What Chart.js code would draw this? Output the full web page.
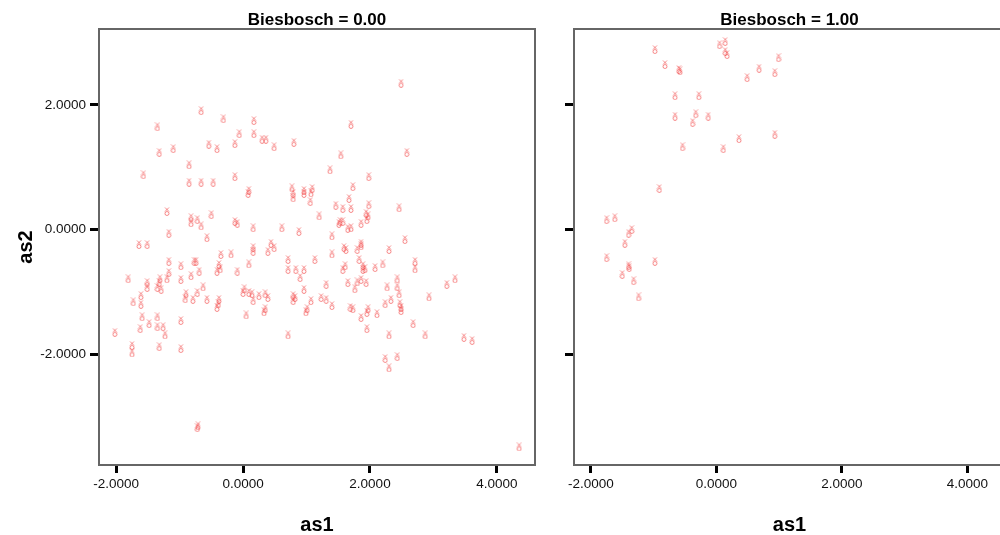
<!DOCTYPE html>
<html>
<head>
<meta charset="utf-8">
<script src="https://cdn.jsdelivr.net/npm/chart.js@4/dist/chart.umd.min.js"></script>
<style>
  html, body { margin: 0; padding: 0; background: #fff; overflow: hidden; }
  #wrap { position: relative; width: 1000px; height: 535px; overflow: hidden; }
  .panel { position: absolute; top: 0; height: 535px; }
  #p0 { left: 0; width: 545px; }
  #p1 { left: 545px; width: 465px; }
</style>
</head>
<body>
<div id="wrap">
  <div class="panel" id="p0"><canvas id="chart0"></canvas></div>
  <div class="panel" id="p1"><canvas id="chart1"></canvas></div>
</div>
<script>
// panel titles and tick values
const panelTitles = ["Biesbosch = 0.00", "Biesbosch = 1.00"];
const xTickValues = [-2, 0, 2, 4];
const yTickValues = [-2, 0, 2];

// Biesbosch = 0
const as1Bies0 = [
  -0.66, -0.31, 0.17, -1.35, -0.06, 0.17, 0.30, 0.36, 0.49, 0.80,
  -1.32, -1.10, -0.54, -0.41, -0.13, -0.85, -1.57, -0.13, -0.85, -0.66,
  -0.47, 0.09, 0.77, 0.96, 1.09, 2.49, 1.70, 2.58, 1.54, 1.37,
  1.98, 1.73, 0.08, 0.79, 0.79, 0.96, 1.07, 1.06, -1.20, -0.82,
  -0.82, -0.72, -0.66, -0.50, -0.13, -0.09, 0.16, 0.61, 0.88, 1.20,
  -1.17, -0.57, -1.64, -1.51, 0.16, 0.16, 0.44, 0.49, 0.39, -0.35,
  -0.19, -1.17, -0.77, -0.74, -0.98, -0.38, -0.36, -0.41, 0.09, 0.71,
  1.13, -0.09, 0.71, 0.83, 0.96, 0.90, -1.17, -0.69, -0.82, -0.98,
  -1.81, -1.51, -1.51, -1.31, -1.32, -1.35, -1.29, -1.20, -0.63, 0.02,
  0.00, 0.09, 0.14, 0.16, 0.25, 0.35, 0.39, -0.72, -0.90, -0.91,
  -0.79, -0.57, -0.38, -0.39, -0.41, -1.61, -1.73, -1.61, 0.35, 0.79,
  0.79, 0.82, 0.96, 1.07, 1.01, 1.67, 1.46, 1.57, 1.70, 1.98,
  2.46, 1.94, 1.97, 1.95, 1.53, 1.57, 1.51, 1.65, 1.70, 1.86,
  1.40, 2.55, 1.59, 1.62, 1.86, 1.86, 1.80, 2.30, 1.40, 1.83,
  1.61, 1.57, 1.89, 1.89, 1.92, 2.08, 2.20, 2.71, 2.71, 1.31,
  1.65, 1.80, 1.86, 1.94, 1.76, 2.27, 2.43, 2.43, 2.46, 3.34,
  3.21, 1.23, 1.31, 1.40, 1.69, 1.73, 1.97, 2.33, 2.24, 2.47,
  2.49, 2.93, -1.59, -1.35, -0.98, -1.48, -1.35, -1.26, -1.62, -1.23,
  -2.02, -1.75, -1.75, -1.32, -0.98, -0.72, -0.71, 0.05, 0.33, 0.99,
  0.71, 1.86, 1.95, 2.11, 2.49, 1.95, 2.68, 2.30, 2.87, 3.48,
  3.61, 2.24, 2.43, 2.30, 4.35
];
const as2Bies0 = [
  1.91, 1.78, 1.75, 1.65, 1.54, 1.54, 1.45, 1.45, 1.33, 1.40,
  1.24, 1.30, 1.37, 1.30, 1.38, 1.04, 0.88, 0.85, 0.76, 0.76,
  0.76, 0.63, 0.67, 0.63, 0.66, 2.35, 1.69, 1.24, 1.20, 0.96,
  0.85, 0.69, 0.58, 0.58, 0.51, 0.58, 0.59, 0.45, 0.29, 0.19,
  0.11, 0.16, 0.06, 0.24, 0.13, 0.10, 0.03, 0.03, -0.03, 0.22,
  -0.06, -0.13, -0.24, -0.24, -0.29, -0.35, -0.22, -0.29, -0.35, -0.40,
  -0.39, -0.51, -0.51, -0.51, -0.58, -0.56, -0.63, -0.67, -0.55, -0.48,
  -0.48, -0.67, -0.64, -0.64, -0.64, -0.77, -0.69, -0.67, -0.74, -0.80,
  -0.79, -0.85, -0.93, -0.79, -0.85, -0.93, -0.96, -0.79, -0.92, -0.95,
  -1.01, -1.01, -1.03, -1.14, -1.06, -1.03, -1.09, -1.01, -1.03, -1.11,
  -1.12, -1.12, -1.12, -1.19, -1.25, -1.06, -1.16, -1.20, -1.27, -1.06,
  -1.14, -1.09, -0.96, -1.14, -1.27, 0.50, 0.39, 0.34, 0.34, 0.40,
  0.35, 0.26, 0.22, 0.16, 0.13, 0.13, 0.10, 0.02, 0.03, 0.10,
  -0.10, -0.16, -0.29, -0.32, -0.22, -0.26, -0.32, -0.32, -0.39, -0.48,
  -0.58, -0.64, -0.58, -0.64, -0.63, -0.61, -0.55, -0.51, -0.63, -0.88,
  -0.85, -0.84, -0.80, -0.85, -0.95, -0.92, -0.79, -0.92, -1.03, -0.79,
  -0.88, -1.09, -1.12, -1.22, -1.25, -1.27, -1.27, -1.12, -1.19, -1.19,
  -1.25, -1.08, -1.40, -1.40, -1.46, -1.51, -1.56, -1.56, -1.59, -1.69,
  -1.65, -1.86, -1.98, -1.88, -1.91, -3.18, -3.15, -1.37, -1.32, -1.32,
  -1.69, -1.41, -1.33, -1.35, -1.30, -1.59, -1.51, -1.69, -1.69, -1.73,
  -1.78, -2.07, -2.04, -2.22, -3.49
];

// Biesbosch = 1
const as1Bies1 = [
  -0.98, -0.82, -0.58, -0.60, 0.05, 0.14, 0.14, 0.17, 0.99, 0.68,
  0.93, 0.49, -0.66, -0.28, -0.66, -0.33, -0.13, -0.38, -0.54, 0.11,
  0.36, 0.93, -0.91, -1.75, -1.62, -1.35, -1.40, -1.46, -1.75, -1.40,
  -1.39, -0.98, -1.50, -1.32, -1.24
];
const as2Bies1 = [
  2.89, 2.65, 2.55, 2.57, 2.97, 3.02, 2.86, 2.81, 2.76, 2.59,
  2.52, 2.44, 2.15, 2.15, 1.82, 1.86, 1.82, 1.72, 1.33, 1.30,
  1.46, 1.53, 0.66, 0.16, 0.19, 0.00, -0.06, -0.22, -0.45, -0.58,
  -0.61, -0.51, -0.72, -0.82, -1.08
];

const xMin = -2.27, xMax = 4.6;
const yMin = -3.78, yMax = 3.22;

// little "x over o" marker like the original
function makeMarker() {
  const c = document.createElement("canvas");
  c.width = 6;
  c.height = 9;
  const g = c.getContext("2d");
  g.strokeStyle = "rgba(240,60,60,0.6)";
  g.lineWidth = 1;
  g.beginPath();
  g.moveTo(1, 0.5); g.lineTo(5, 4.5);
  g.moveTo(5, 0.5); g.lineTo(1, 4.5);
  g.stroke();
  g.beginPath();
  g.arc(3, 6.5, 2, 0, Math.PI * 2);
  g.stroke();
  return c;
}
const marker = makeMarker();

function framePlugin(title) {
  return {
    id: "frame",
    afterDraw(chart) {
      const ctx = chart.ctx;
      const a = chart.chartArea;
      ctx.save();
      ctx.strokeStyle = "#666";
      ctx.lineWidth = 2;
      ctx.strokeRect(a.left, a.top, a.right - a.left, a.bottom - a.top);
      ctx.fillStyle = "#000";
      ctx.font = "bold 17px Arial, 'Liberation Sans', sans-serif";
      ctx.textAlign = "center";
      ctx.textBaseline = "alphabetic";
      ctx.fillText(title, (a.left + a.right) / 2, a.top - 4);
      ctx.restore();
    }
  };
}

function makeChart(id, xs, ys, title, showYLabels, padRight) {
  const points = xs.map((x, i) => ({ x: x, y: ys[i] }));
  const tickFont = { family: "Arial, 'Liberation Sans', sans-serif", size: 13.5 };
  const titleFont = { family: "Arial, 'Liberation Sans', sans-serif", size: 20, weight: "bold" };
  return new Chart(document.getElementById(id), {
    type: "scatter",
    data: {
      datasets: [{
        data: points,
        pointStyle: marker,
        pointRadius: 4
      }]
    },
    options: {
      responsive: true,
      maintainAspectRatio: false,
      animation: false,
      layout: { padding: { top: 29, right: padRight, bottom: 0, left: 0 } },
      plugins: { legend: { display: false }, tooltip: { enabled: false } },
      scales: {
        x: {
          type: "linear",
          min: xMin,
          max: xMax,
          afterBuildTicks: (s) => { s.ticks = xTickValues.map(v => ({ value: v })); },
          afterFit: (s) => { s.height = 70; },
          ticks: {
            color: "#111",
            font: tickFont,
            padding: 3,
            maxRotation: 0,
            callback: (v) => Number(v).toFixed(4)
          },
          grid: { drawOnChartArea: false, tickLength: 8, tickWidth: 3, tickColor: "#000" },
          border: { display: false },
          title: { display: true, text: "as1", color: "#000", font: titleFont, padding: { top: 0, bottom: -2 } }
        },
        y: {
          type: "linear",
          min: yMin,
          max: yMax,
          afterBuildTicks: (s) => { s.ticks = yTickValues.map(v => ({ value: v })); },
          afterFit: (s) => { s.width = showYLabels ? 99 : 29; },
          ticks: {
            display: showYLabels,
            color: "#111",
            font: tickFont,
            padding: 4,
            callback: (v) => Number(v).toFixed(4)
          },
          grid: { drawOnChartArea: false, tickLength: 9, tickWidth: 3, tickColor: "#000" },
          border: { display: false },
          title: { display: showYLabels, text: "as2", color: "#000", font: titleFont, padding: { top: 14, bottom: 0 } }
        }
      }
    },
    plugins: [framePlugin(title)]
  });
}

makeChart("chart0", as1Bies0, as2Bies0, panelTitles[0], true, 10);
makeChart("chart1", as1Bies1, as2Bies1, panelTitles[1], false, 0);
</script>
</body>
</html>
